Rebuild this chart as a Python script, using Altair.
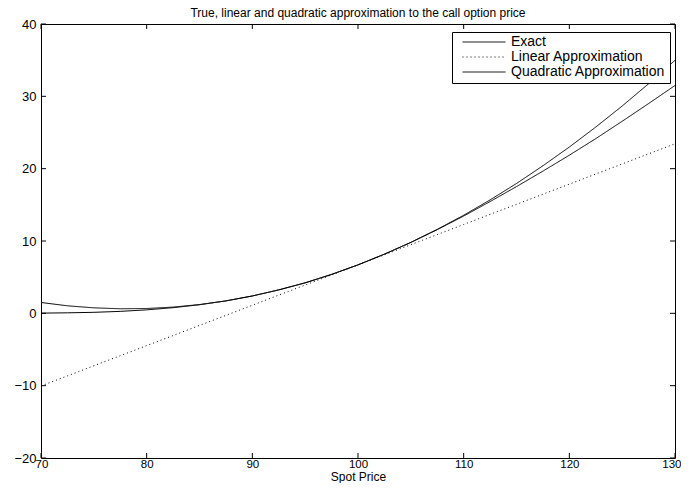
import altair as alt
import pandas as pd

spot = [70, 72.5, 75, 77.5, 80, 82.5, 85, 87.5, 90, 92.5, 95, 97.5, 100,
        102.5, 105, 107.5, 110, 112.5, 115, 117.5, 120, 122.5, 125, 127.5, 130]
exact = [0.03, 0.07, 0.14, 0.27, 0.48, 0.78, 1.19, 1.72, 2.40, 3.24, 4.20, 5.37, 6.70,
         8.18, 9.80, 11.57, 13.45, 15.45, 17.52, 19.66, 21.86, 24.15, 26.55, 29.00, 31.50]
linear = [-10.04, -8.65, -7.25, -5.86, -4.46, -3.07, -1.67, -0.28, 1.12, 2.52, 3.91, 5.31, 6.70,
          8.10, 9.49, 10.89, 12.28, 13.68, 15.07, 16.47, 17.86, 19.26, 20.65, 22.05, 23.44]
quadratic = [1.50, 1.04, 0.76, 0.63, 0.67, 0.86, 1.21, 1.72, 2.40, 3.24, 4.23, 5.39, 6.70,
             8.18, 9.81, 11.61, 13.56, 15.68, 17.95, 20.40, 22.99, 25.75, 28.66, 31.74, 34.98]
series_names = ["Exact", "Linear Approximation", "Quadratic Approximation"]
x_ticks = [70, 80, 90, 100, 110, 120, 130]
y_ticks = [-20, -10, 0, 10, 20, 30, 40]

W, H = 634, 434
FONT = "Liberation Sans"

rows = []
for name, vals in zip(series_names, [exact, linear, quadratic]):
    for s, v in zip(spot, vals):
        rows.append({"series": name, "spot": s, "value": v})
df = pd.DataFrame(rows)

xscale = alt.Scale(domain=[70, 130], nice=False, zero=False)
yscale = alt.Scale(domain=[-20, 40], nice=False, zero=False)
x_axis = alt.Axis(values=x_ticks, ticks=False, domain=False, grid=False,
                  labelFlush=True, labelFlushOffset=6,
                  title="Spot Price", labelPadding=0, titlePadding=2, format="d",
                  labelFontSize=11.5, titleFontSize=12)
y_axis = alt.Axis(values=y_ticks, ticks=False, domain=False, grid=False,
                  title=None, labelPadding=5, labelFontSize=13)

lines = alt.Chart(df).mark_line(strokeWidth=1).encode(
    x=alt.X("spot:Q", scale=xscale, axis=x_axis),
    y=alt.Y("value:Q", scale=yscale, axis=y_axis),
    color=alt.Color("series:N", title=None,
                    scale=alt.Scale(domain=series_names, range=["black", "black", "black"])),
    strokeDash=alt.StrokeDash("series:N", title=None,
                              scale=alt.Scale(domain=series_names,
                                              range=[[1, 0], [1, 3], [1, 0]])),
    order=alt.Order("spot:Q"),
)

xt = pd.DataFrame({"spot": x_ticks})
yt = pd.DataFrame({"value": y_ticks})

xb = alt.Chart(xt).mark_rule(color="black", strokeWidth=1).encode(
    x=alt.X("spot:Q", scale=xscale, axis=x_axis), y=alt.value(H), y2=alt.value(H - 5))
xtop = alt.Chart(xt).mark_rule(color="black", strokeWidth=1).encode(
    x=alt.X("spot:Q", scale=xscale, axis=x_axis), y=alt.value(0), y2=alt.value(5))
yl = alt.Chart(yt).mark_rule(color="black", strokeWidth=1).encode(
    y=alt.Y("value:Q", scale=yscale, axis=y_axis), x=alt.value(0), x2=alt.value(5))
yr = alt.Chart(yt).mark_rule(color="black", strokeWidth=1).encode(
    y=alt.Y("value:Q", scale=yscale, axis=y_axis), x=alt.value(W), x2=alt.value(W - 5))

chart = alt.layer(lines, xb, xtop, yl, yr).properties(
    width=W, height=H,
    title=alt.TitleParams("True, linear and quadratic approximation to the call option price",
                          fontSize=12, fontWeight="normal", font=FONT, offset=-2,
                          anchor="middle", color="black"),
    padding={"left": 33, "top": 16, "right": 6, "bottom": 25},
    autosize=alt.AutoSizeParams(type="none"),
).configure_view(
    stroke="black", strokeWidth=1
).configure_axis(
    labelFont=FONT, titleFont=FONT,
    titleFontWeight="normal", labelColor="black", titleColor="black"
).configure_legend(
    orient="none", legendX=411, legendY=8, fillColor="white", strokeColor="black",
    padding=4, symbolOffset=6, symbolType="stroke", symbolSize=1849, symbolStrokeWidth=1,
    clipHeight=12, labelFont=FONT, labelFontSize=14, labelColor="black",
    rowPadding=1, labelOffset=5, cornerRadius=0, labelLimit=400
)

chart.save("out.html", embed_options={"renderer": "svg", "actions": False})
